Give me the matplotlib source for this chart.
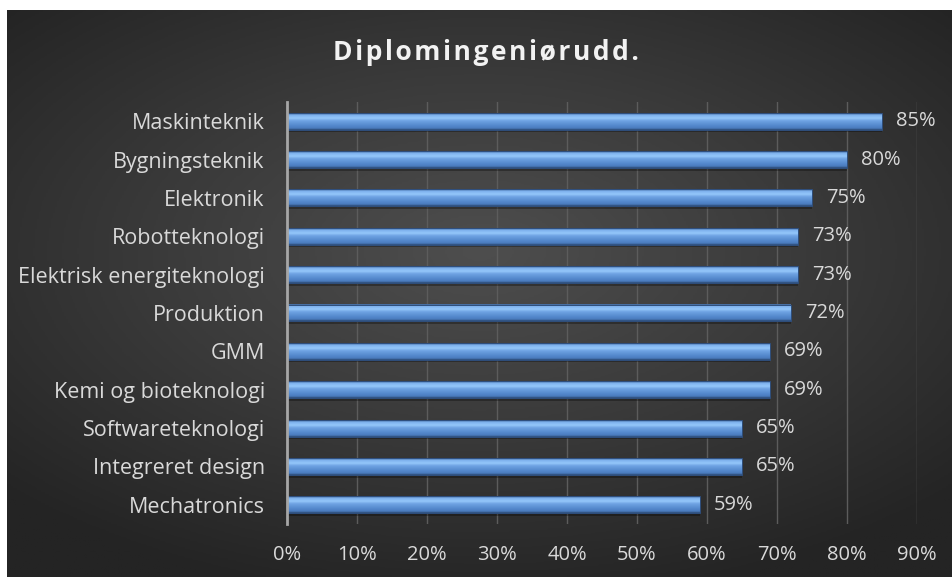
import numpy as np
from matplotlib import pyplot as plt
from matplotlib.colors import LinearSegmentedColormap

categories = ['Maskinteknik', 'Bygningsteknik', 'Elektronik', 'Robotteknologi',
              'Elektrisk energiteknologi', 'Produktion', 'GMM',
              'Kemi og bioteknologi', 'Softwareteknologi', 'Integreret design',
              'Mechatronics']
values = [0.85, 0.80, 0.75, 0.73, 0.73, 0.72, 0.69, 0.69, 0.65, 0.65, 0.59]
value_labels = ['85%', '80%', '75%', '73%', '73%', '72%', '69%', '69%', '65%', '65%', '59%']
x_ticks = [0, 0.1, 0.2, 0.3, 0.4, 0.5, 0.6, 0.7, 0.8, 0.9]
x_ticklabels = ['0%', '10%', '20%', '30%', '40%', '50%', '60%', '70%', '80%', '90%']

plt.rcParams['font.family'] = ['Open Sans', 'DejaVu Sans']
txt = '#d9d9d9'
W, H = 953, 577
fig = plt.figure(figsize=(W / 100, H / 100), dpi=100)
fig.patch.set_facecolor('white')

# dark radial background
bg = fig.add_axes([7 / W, 0, 945 / W, 1 - 10 / H])
bg.set_axis_off()
yy, xx = np.mgrid[-1:1:300j, -1:1:500j]
r = np.sqrt((xx * 0.9) ** 2 + ((yy + 0.15) * 1.0) ** 2)
bg_cmap = LinearSegmentedColormap.from_list('bg', ['#4e4e4e', '#3a3a3a', '#242424'])
bg.imshow(r, cmap=bg_cmap, aspect='auto', vmin=0, vmax=1.25, extent=(0, 1, 0, 1))
bg.set_xlim(0, 1)
bg.set_ylim(0, 1)

ax = fig.add_axes([287 / W, 1 - 524 / H, (917 - 287) / W, (524 - 102) / H])
ax.patch.set_alpha(0)
n = len(categories)
ypos = np.arange(n)
bh = 0.44

# top -> bottom shading of the bars
bar_cmap = LinearSegmentedColormap.from_list(
    'bar', [(0, '#3a5f92'), (0.12, '#7fb3ef'), (0.3, '#95c7fa'), (0.45, '#6fa3e3'),
            (0.75, '#5388cc'), (0.9, '#4a7bbd'), (1, '#2c4a75')])
grad = np.linspace(0, 1, 60).reshape(-1, 1)
for y, v, lab in zip(ypos, values, value_labels):
    # soft shadow
    ax.barh(y + 0.07, v, height=bh, color='black', alpha=0.3, zorder=2, linewidth=0)
    ax.imshow(grad, cmap=bar_cmap, aspect='auto', extent=(0, v, y + bh / 2, y - bh / 2),
              zorder=3, interpolation='bilinear')
    ax.barh(y, v, height=bh, fill=False, edgecolor='#2f4f7d', linewidth=0.7, zorder=4)
    ax.annotate(lab, (v, y), xytext=(10, 0), textcoords='offset points',
                va='center', ha='left', color=txt, fontsize=14.5)

ax.set_xlim(0, 0.9)
ax.set_ylim(n - 0.5, -0.5)
ax.set_yticks(ypos)
ax.set_yticklabels(categories, color=txt, fontsize=15.5)
ax.set_xticks(x_ticks)
ax.set_xticklabels(x_ticklabels, color=txt, fontsize=14.5)
ax.tick_params(length=0)
ax.tick_params(axis='x', pad=15)
ax.tick_params(axis='y', pad=16)
ax.grid(axis='x', color='#5c5c5c', linewidth=1, zorder=1)
ax.set_axisbelow(True)
for s in ['top', 'right', 'bottom']:
    ax.spines[s].set_visible(False)
ax.spines['left'].set_color('#a6a6a6')
ax.spines['left'].set_linewidth(2)
ax.spines['left'].set_zorder(5)

fig.text(486 / W, 1 - 52 / H, '\u200a'.join('Diplomingeniørudd.'),
         ha='center', va='center', color='#f2f2f2', fontsize=19, fontweight='bold')

plt.savefig('out.png', dpi=100)
